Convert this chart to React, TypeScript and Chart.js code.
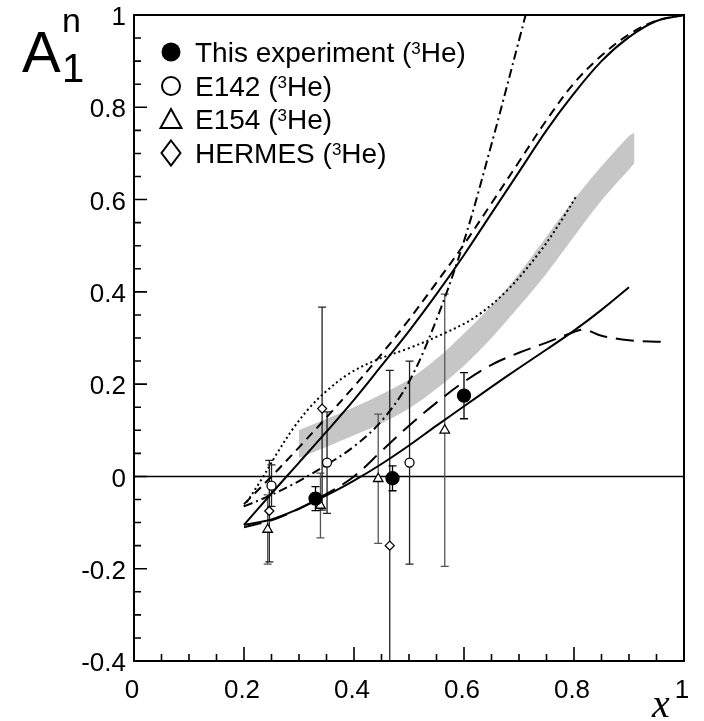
import React, { useEffect, useRef } from "react";
import { Chart, registerables } from "chart.js";

Chart.register(...registerables);

// ---------------- data ----------------
const thisX = [0.33, 0.47, 0.6];
const thisY = [-0.048, -0.004, 0.175];
const thisErr = [0.026, 0.027, 0.05];

const e142X = [0.25, 0.351, 0.501];
const e142Y = [-0.02, 0.03, 0.03];
const e142Err = [0.045, 0.11, 0.22];

const e154X = [0.243, 0.339, 0.444, 0.565];
const e154Y = [-0.115, -0.063, -0.005, 0.1];
const e154Err = [0.075, 0.07, 0.14, 0.295];

const hermesX = [0.246, 0.342, 0.465];
const hermesY = [-0.075, 0.147, -0.15];
const hermesErr = [0.11, 0.22, 0.38];

const solidUpperX = [0.2, 0.25, 0.3, 0.35, 0.4, 0.45, 0.5, 0.55, 0.6, 0.65, 0.7, 0.75, 0.8, 0.85, 0.9, 0.95, 1.0];
const solidUpperY = [-0.105, -0.037, 0.03, 0.097, 0.166, 0.24, 0.315, 0.395, 0.48, 0.57, 0.66, 0.75, 0.83, 0.9, 0.952, 0.987, 1.0];

const dashedUpperX = [0.2, 0.25, 0.3, 0.35, 0.4, 0.45, 0.5, 0.55, 0.6, 0.65, 0.7, 0.75, 0.8, 0.85, 0.9, 0.95, 1.0];
const dashedUpperY = [-0.06, 0.0, 0.063, 0.128, 0.195, 0.265, 0.34, 0.42, 0.503, 0.592, 0.682, 0.772, 0.852, 0.912, 0.958, 0.988, 1.0];

const dashDotX = [0.2, 0.25, 0.3, 0.35, 0.4, 0.45, 0.5, 0.55, 0.6, 0.65, 0.7, 0.712];
const dashDotY = [-0.065, -0.04, -0.01, 0.025, 0.065, 0.12, 0.205, 0.34, 0.51, 0.72, 0.945, 1.0];

const dottedX = [0.2, 0.23, 0.26, 0.29, 0.32, 0.35, 0.39, 0.44, 0.5, 0.56, 0.62, 0.68, 0.74, 0.78, 0.803];
const dottedY = [-0.065, -0.01, 0.05, 0.105, 0.15, 0.185, 0.222, 0.252, 0.278, 0.308, 0.345, 0.405, 0.49, 0.56, 0.605];

const longDashX = [0.2, 0.25, 0.3, 0.35, 0.4, 0.45, 0.5, 0.55, 0.6, 0.65, 0.7, 0.75, 0.8, 0.82, 0.85, 0.9, 0.95, 0.97];
const longDashY = [-0.11, -0.095, -0.07, -0.038, 0.0, 0.055, 0.11, 0.16, 0.205, 0.242, 0.268, 0.29, 0.313, 0.318, 0.305, 0.295, 0.292, 0.292];

const solidLowerX = [0.2, 0.25, 0.3, 0.35, 0.4, 0.45, 0.5, 0.55, 0.6, 0.65, 0.7, 0.75, 0.8, 0.85, 0.9];
const solidLowerY = [-0.105, -0.093, -0.07, -0.041, -0.009, 0.027, 0.067, 0.11, 0.152, 0.194, 0.235, 0.275, 0.316, 0.361, 0.41];

const bandX = [0.3, 0.35, 0.4, 0.45, 0.5, 0.55, 0.6, 0.65, 0.7, 0.75, 0.8, 0.85, 0.9, 0.91];
const bandUpperY = [0.1, 0.125, 0.15, 0.178, 0.21, 0.255, 0.31, 0.37, 0.44, 0.52, 0.6, 0.672, 0.738, 0.745];
const bandLowerY = [0.04, 0.064, 0.089, 0.115, 0.147, 0.19, 0.24, 0.3, 0.368, 0.44, 0.52, 0.598, 0.665, 0.68];

const xTickValues = [0, 0.2, 0.4, 0.6, 0.8, 1];
const xTickLabels = ["0", "0.2", "0.4", "0.6", "0.8", "1"];
const yTickValues = [-0.4, -0.2, 0, 0.2, 0.4, 0.6, 0.8, 1];
const yTickLabels = ["-0.4", "-0.2", "0", "0.2", "0.4", "0.6", "0.8", "1"];
const minorStep = 0.05;

const legendNames = ["This experiment", "E142", "E154", "HERMES"];
const legendTarget = "He)";

// ---------------- helpers ----------------
const SANS = "'Liberation Sans', Arial, Helvetica, sans-serif";
const SERIF = "'Liberation Serif', 'Times New Roman', serif";

const pts = (xs: number[], ys: number[]) => xs.map((x, i) => ({ x, y: ys[i] }));

const lineDs = (xs: number[], ys: number[], dash: number[], width = 2) => ({
  data: pts(xs, ys),
  borderColor: "#000",
  borderWidth: width,
  borderDash: dash,
  pointRadius: 0,
  fill: false,
  tension: 0.35,
  showLine: true,
});

const markerDs = (xs: number[], ys: number[], style: string, radius: number, filled: boolean) => ({
  data: pts(xs, ys),
  showLine: false,
  pointStyle: style,
  pointRadius: radius,
  pointBackgroundColor: filled ? "#000" : "#fff",
  pointBorderColor: "#000",
  pointBorderWidth: 1.3,
  fill: false,
});

const errorSeries = [
  { xs: e154X, ys: e154Y, es: e154Err, color: "#555" },
  { xs: hermesX, ys: hermesY, es: hermesErr, color: "#222" },
  { xs: e142X, ys: e142Y, es: e142Err, color: "#222" },
  { xs: thisX, ys: thisY, es: thisErr, color: "#000" },
];

// dataset order: index 0 drawn on top
const datasets: any[] = [
  markerDs(thisX, thisY, "circle", 6.5, true),
  markerDs(e142X, e142Y, "circle", 4.5, false),
  markerDs(e154X, e154Y, "triangle", 5.5, false),
  markerDs(hermesX, hermesY, "rectRot", 4.5, false),
  lineDs(solidUpperX, solidUpperY, []),
  lineDs(dashedUpperX, dashedUpperY, [9, 6]),
  lineDs(dashDotX, dashDotY, [9, 4, 2, 4]),
  lineDs(dottedX, dottedY, [2, 3]),
  lineDs(longDashX, longDashY, [18, 9]),
  lineDs(solidLowerX, solidLowerY, []),
  {
    data: pts(bandX, bandUpperY),
    borderWidth: 0,
    borderColor: "rgba(0,0,0,0)",
    backgroundColor: "#c6c6c6",
    pointRadius: 0,
    fill: "+1",
    tension: 0.35,
  },
  {
    data: pts(bandX, bandLowerY),
    borderWidth: 0,
    borderColor: "rgba(0,0,0,0)",
    pointRadius: 0,
    fill: false,
    tension: 0.35,
  },
];
const BAND_UPPER_INDEX = 10;

function drawMarker(ctx: CanvasRenderingContext2D, kind: string, x: number, y: number) {
  ctx.save();
  ctx.lineWidth = 2;
  ctx.strokeStyle = "#000";
  ctx.fillStyle = "#fff";
  ctx.beginPath();
  if (kind === "filled") {
    ctx.arc(x, y, 9.5, 0, Math.PI * 2);
    ctx.fillStyle = "#000";
    ctx.fill();
  } else if (kind === "circle") {
    ctx.arc(x, y, 9, 0, Math.PI * 2);
    ctx.stroke();
  } else if (kind === "triangle") {
    ctx.moveTo(x, y - 10);
    ctx.lineTo(x + 10.5, y + 9);
    ctx.lineTo(x - 10.5, y + 9);
    ctx.closePath();
    ctx.stroke();
  } else {
    ctx.moveTo(x, y - 12.5);
    ctx.lineTo(x + 9.5, y);
    ctx.lineTo(x, y + 12.5);
    ctx.lineTo(x - 9.5, y);
    ctx.closePath();
    ctx.stroke();
  }
  ctx.restore();
}

const decor = {
  id: "decor",
  afterDatasetDraw(chart: any, args: any) {
    if (args.index !== BAND_UPPER_INDEX) return;
    const { ctx, chartArea: a, scales } = chart;
    const xs = scales.x;
    const ys = scales.y;
    ctx.save();
    ctx.beginPath();
    ctx.rect(a.left, a.top, a.right - a.left, a.bottom - a.top);
    ctx.clip();
    ctx.strokeStyle = "#000";
    ctx.lineWidth = 1.5;
    const y0 = ys.getPixelForValue(0);
    ctx.beginPath();
    ctx.moveTo(a.left, y0);
    ctx.lineTo(a.right, y0);
    ctx.stroke();
    for (const s of errorSeries) {
      ctx.strokeStyle = s.color;
      ctx.lineWidth = 1.3;
      s.xs.forEach((xv, i) => {
        const px = xs.getPixelForValue(xv);
        const top = ys.getPixelForValue(s.ys[i] + s.es[i]);
        const bot = ys.getPixelForValue(s.ys[i] - s.es[i]);
        ctx.beginPath();
        ctx.moveTo(px, top);
        ctx.lineTo(px, bot);
        ctx.moveTo(px - 4, top);
        ctx.lineTo(px + 4, top);
        ctx.moveTo(px - 4, bot);
        ctx.lineTo(px + 4, bot);
        ctx.stroke();
      });
    }
    ctx.restore();
  },
  afterDraw(chart: any) {
    const { ctx, chartArea: a, scales } = chart;
    const xs = scales.x;
    const ys = scales.y;
    ctx.save();
    ctx.strokeStyle = "#000";
    ctx.lineWidth = 2;
    ctx.strokeRect(a.left, a.top, a.right - a.left, a.bottom - a.top);
    ctx.lineWidth = 1.6;
    ctx.beginPath();
    const nx = Math.round((xs.max - xs.min) / minorStep);
    for (let i = 0; i <= nx; i++) {
      const v = xs.min + i * minorStep;
      const major = i % 4 === 0;
      const px = xs.getPixelForValue(v);
      ctx.moveTo(px, a.bottom);
      ctx.lineTo(px, a.bottom - (major ? 14 : 7));
    }
    const ny = Math.round((ys.max - ys.min) / minorStep);
    for (let i = 0; i <= ny; i++) {
      const v = ys.min + i * minorStep;
      const major = i % 4 === 0;
      const py = ys.getPixelForValue(v);
      ctx.moveTo(a.left, py);
      ctx.lineTo(a.left + (major ? 13 : 7), py);
    }
    ctx.stroke();

    ctx.fillStyle = "#000";
    ctx.font = `26px ${SANS}`;
    ctx.textAlign = "right";
    ctx.textBaseline = "middle";
    yTickValues.forEach((v, i) => {
      ctx.fillText(yTickLabels[i], a.left - 8, ys.getPixelForValue(v) + 3);
    });
    ctx.textAlign = "center";
    ctx.textBaseline = "alphabetic";
    xTickValues.forEach((v, i) => {
      ctx.fillText(xTickLabels[i], xs.getPixelForValue(v) - 2, 698);
    });

    ctx.textAlign = "left";
    ctx.font = `italic 40px ${SERIF}`;
    ctx.fillText("x", 652, 717);
    ctx.font = `58px ${SANS}`;
    ctx.fillText("A", 22, 72);
    ctx.font = `34px ${SANS}`;
    ctx.fillText("n", 62, 32);
    ctx.font = `40px ${SANS}`;
    ctx.fillText("1", 62, 82);

    const kinds = ["filled", "circle", "triangle", "diamond"];
    const baselines = [62, 96, 129, 163];
    legendNames.forEach((name, i) => {
      const base = baselines[i];
      drawMarker(ctx, kinds[i], 171, base - 10);
      ctx.font = `28px ${SANS}`;
      let tx = 195;
      const first = name + " (";
      ctx.fillText(first, tx, base);
      tx += ctx.measureText(first).width;
      ctx.font = `17px ${SANS}`;
      ctx.fillText("3", tx, base - 8);
      tx += ctx.measureText("3").width;
      ctx.font = `28px ${SANS}`;
      ctx.fillText(legendTarget, tx, base);
    });
    ctx.restore();
  },
};

export default function App() {
  const ref = useRef<HTMLCanvasElement | null>(null);
  useEffect(() => {
    if (!ref.current) return;
    const chart = new Chart(ref.current, {
      type: "line",
      data: { datasets },
      options: {
        animation: false,
        responsive: false,
        maintainAspectRatio: false,
        layout: { padding: { left: 0, top: 15, right: 20, bottom: 0 } },
        plugins: { legend: { display: false }, tooltip: { enabled: false } },
        scales: {
          x: {
            type: "linear",
            min: 0,
            max: 1,
            grid: { display: false },
            border: { display: false },
            ticks: { display: false },
            afterFit: (s: any) => {
              s.height = 60;
            },
          },
          y: {
            type: "linear",
            min: -0.4,
            max: 1,
            grid: { display: false },
            border: { display: false },
            ticks: { display: false },
            afterFit: (s: any) => {
              s.width = 134;
            },
          },
        },
      } as any,
      plugins: [decor],
    });
    return () => chart.destroy();
  }, []);
  return (
    <div style={{ position: "fixed", left: 0, top: 0, width: 704, height: 721, background: "#fff" }}>
      <canvas ref={ref} width={704} height={721} style={{ display: "block", width: 704, height: 721 }} />
    </div>
  );
}
